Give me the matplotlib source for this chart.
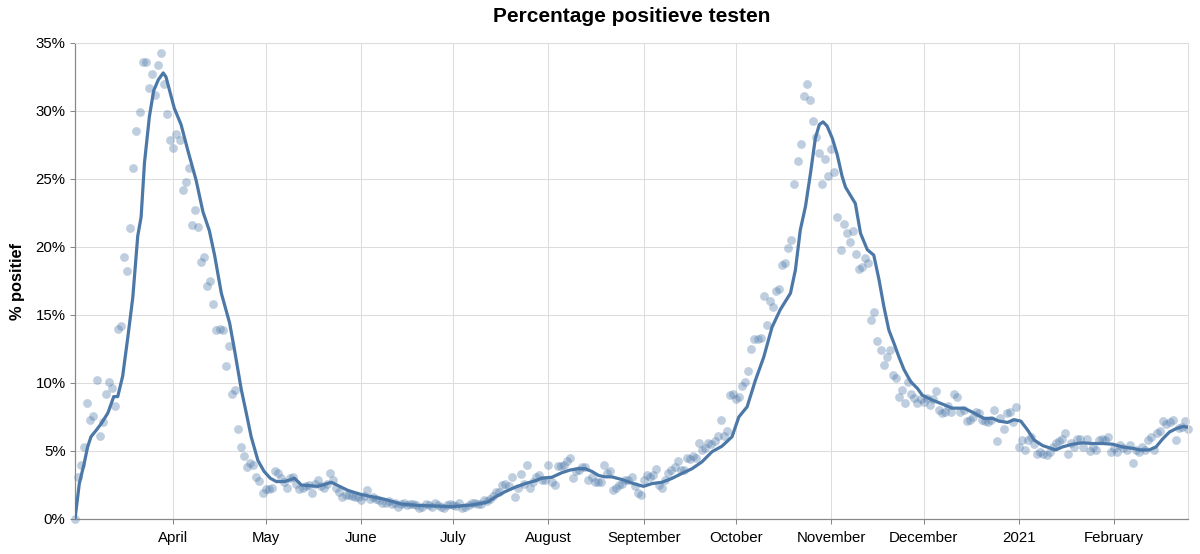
import numpy as np
import pandas as pd
import matplotlib
matplotlib.use("Agg")
import matplotlib.pyplot as plt

plt.rcParams['font.family'] = ['Liberation Sans', 'DejaVu Sans']

start_date = "2020-02-29"

# daily percentage positive (dots)
pos_mar_apr = [0.0, 3.1, 4.0, 5.3, 8.5, 7.3, 7.6, 10.2, 6.1, 7.1, 9.2, 10.1, 9.6, 8.3, 14.0,
               14.2, 19.3, 18.2, 21.4, 25.8, 28.5, 29.9, 33.6, 33.6, 31.7, 32.7, 31.2, 33.4, 34.3,
               32.0, 29.8, 27.9, 27.3, 28.3, 27.9, 24.2, 24.8, 25.8, 21.6, 22.7, 21.5, 18.9, 19.3,
               17.1, 17.5, 15.8, 13.9, 14.0, 13.9, 11.25, 12.7, 9.2, 9.5, 6.6, 5.3, 4.6, 3.85, 4.1,
               4.0, 3.1, 2.8, 1.9, 2.2]
pos_may_jun = [2.2, 2.3, 3.5, 3.4, 3.0, 2.7, 2.3, 3.0, 3.1, 2.6, 2.2, 2.3, 2.4, 2.5, 1.9,
               2.6, 2.9, 2.4, 2.3, 2.6, 3.4, 2.9, 2.3, 2.0, 1.6, 1.8, 1.8, 1.7, 1.6, 1.6,
               1.4, 1.7, 2.1, 1.5, 1.6, 1.5, 1.4, 1.2, 1.2, 1.3, 1.1, 1.2, 0.9, 1.1, 1.2,
               1.0, 1.1, 1.1, 1.0, 0.8, 0.9, 1.1, 1.0, 0.9, 1.2, 1.0, 0.9, 0.8, 1.0, 1.1]
pos_jul_sep = [1.03, 0.96, 1.15, 0.8, 0.86, 1.0, 1.15, 1.2, 1.1, 1.1, 1.4, 1.3, 1.5, 1.7, 2.0,
               2.0, 2.5, 2.6, 2.4, 3.1, 1.6, 2.3, 3.3, 2.6, 4.0, 2.3, 2.7, 3.1, 3.2, 2.9, 2.9,
               4.0, 2.7, 2.5, 3.9, 3.9, 4.0, 4.3, 4.5, 3.0, 3.5, 3.6, 3.8, 3.8, 2.9, 3.1,
               2.7, 2.7, 2.7, 4.0, 3.4, 3.5, 2.1, 2.3, 2.5, 2.6, 2.9, 2.9, 3.1, 2.4, 1.9, 1.8,
               2.9, 3.2, 3.1, 3.2, 3.7, 2.5, 2.3, 2.9, 3.4, 3.6, 3.85, 4.3, 3.6, 3.6, 4.5,
               4.4, 4.6, 4.5, 5.6, 5.1, 5.2, 5.6, 5.5, 5.7, 6.1, 7.3, 6.1, 6.5, 9.1, 9.2, 8.8]
pos_oct_nov = [9.0, 9.8, 10.1, 10.9, 12.5, 13.2, 13.2, 13.3, 16.4, 14.3, 16.0, 15.6, 16.8, 16.9,
               18.7, 18.8, 19.95, 20.5, 24.6, 26.3, 27.55, 31.1, 32.0, 30.8, 29.3, 28.1, 26.9,
               24.6, 26.5, 25.2, 27.2, 25.5, 22.2, 19.8, 21.7, 21.0, 20.4, 21.2, 19.5, 18.4,
               18.5, 19.2, 18.8, 14.6, 15.2, 13.1, 12.4, 11.3, 11.9, 12.4, 10.6, 10.35, 9.0,
               9.5, 8.5, 10.1, 9.2, 8.9, 8.5, 8.8]
pos_dec_feb = [8.6, 8.9, 8.4, 8.8, 9.4, 8.0, 7.8, 7.9, 8.3, 7.9, 9.2, 9.0, 7.9, 8.0, 7.2,
               7.3, 7.5, 7.9, 7.8, 7.3, 7.2, 7.15, 7.3, 8.0, 5.7, 7.4, 6.6, 7.8, 7.9, 7.1,
               8.2, 5.3, 5.8, 5.1, 5.8, 6.0, 5.5, 4.8, 4.9, 4.8, 4.7, 4.95, 5.3, 5.6, 5.7,
               5.9, 6.35, 4.8, 5.6, 5.3, 5.9, 5.9, 5.3, 5.9, 5.0, 5.3, 5.1, 5.8, 5.9, 5.8,
               6.0, 4.9, 5.2, 4.9, 5.45, 5.2, 5.1, 5.45, 4.1, 5.1, 4.95, 5.3, 5.1, 5.8, 6.0,
               5.1, 6.35, 6.5, 7.2, 6.95, 7.1, 7.3, 5.8, 6.7, 6.8, 7.2, 6.6]

# smoothed line (days since start date, value)
line_days_1 = [0, 1.4, 3.0, 4.1, 5.2, 6.8, 8.5, 10.7, 12.6, 13.9, 15.5, 17.2, 18.8, 20.4, 21.5,
               22.6, 24.2, 25.6, 27.1, 28.7, 29.6, 31.0, 32.3, 34.5, 36.7, 39.4, 41.6, 43.7,
               45.4, 47.6, 50.3, 51.9, 54.1, 55.7, 57.3, 59.5, 61.5]
line_vals_1 = [0.0, 2.6, 4.1, 5.3, 6.05, 6.5, 7.0, 7.8, 9.0, 9.0, 10.5, 13.4, 16.3, 20.8, 22.2,
               26.2, 29.6, 31.5, 32.3, 32.8, 32.5, 31.3, 30.2, 29.0, 27.1, 24.9, 22.6, 21.2,
               19.4, 16.6, 14.4, 12.4, 9.5, 7.8, 6.05, 4.3, 3.5]
line_days_2 = [63.5, 65.5, 68.2, 71.4, 73.6, 79.0, 83.4, 85.6, 88.8, 93.1, 100.7, 106.2, 111.6,
               118.0, 122.5]
line_vals_2 = [3.0, 2.75, 2.75, 3.0, 2.5, 2.4, 2.7, 2.45, 2.1, 1.8, 1.45, 1.1, 1.0, 0.95, 0.9]
line_days_3 = [125.7, 129.0, 132.2, 134.4, 136.6, 139.8, 143.1, 146.4, 149.6, 151.8, 155.1,
               158.3, 161.0, 163.7, 165.9, 168.1, 170.3, 172.4, 174.6, 177.9, 181.7, 184.9,
               187.6, 190.9, 194.1, 197.4, 200.7, 203.9, 207.2, 210.4, 213.7]
line_vals_3 = [0.97, 1.03, 1.15, 1.27, 1.6, 2.0, 2.33, 2.6, 2.8, 3.0, 3.07, 3.4, 3.6, 3.7, 3.7,
               3.5, 3.2, 3.1, 3.1, 2.9, 2.6, 2.4, 2.6, 2.7, 2.98, 3.35, 3.7, 4.2, 4.95, 5.35, 6.05]
line_days_4 = [215.9, 218.6, 221.3, 224.0, 226.7, 229.4, 232.7, 234.3, 235.9, 237.6, 239.2,
               240.8, 242.1, 243.3, 244.6, 246.3, 247.9, 249.5, 250.6, 252.2, 253.8, 255.5,
               257.7, 259.8, 261.5, 263.1, 264.7, 266.4, 268.0, 269.6, 271.8, 274.0, 275.6]
line_vals_4 = [7.5, 8.25, 10.2, 11.9, 14.1, 15.4, 16.6, 18.3, 21.25, 23.0, 25.4, 28.0, 29.0,
               29.2, 28.9, 28.0, 26.8, 25.2, 24.4, 23.8, 23.2, 21.0, 19.8, 19.4, 17.6, 15.6,
               13.9, 12.9, 11.9, 11.0, 10.1, 9.6, 9.1]
line_days_5 = [278.8, 282.1, 285.3, 289.1, 292.4, 295.6, 298.4, 300.5, 303.3, 305.4, 307.6,
               309.8, 312.0, 314.7, 317.4, 319.0, 321.2, 324.4, 327.7, 331.0, 334.2, 337.5,
               340.7, 344.0, 346.2, 349.4, 351.6, 353.8, 356.0, 358.2, 360.3, 362.0]
line_vals_5 = [8.75, 8.45, 8.15, 8.15, 7.8, 7.4, 7.4, 7.2, 7.1, 7.3, 7.2, 6.55, 5.8, 5.4, 5.2,
               5.08, 5.3, 5.5, 5.6, 5.55, 5.55, 5.5, 5.3, 5.2, 5.08, 5.08, 5.3, 5.9, 6.4, 6.65,
               6.8, 6.75]

month_ticks = pd.date_range("2020-04-01", "2021-02-01", freq="MS")
month_labels = ["April", "May", "June", "July", "August", "September", "October",
                "November", "December", "2021", "February"]
y_ticks = [0, 5, 10, 15, 20, 25, 30, 35]

title = "Percentage positieve testen"
y_title = "% positief"

# ---------------------------------------------------------------
values = np.concatenate([pos_mar_apr, pos_may_jun, pos_jul_sep, pos_oct_nov, pos_dec_feb])
start = pd.Timestamp(start_date)
dates = pd.date_range(start, periods=len(values), freq="D")
line_days = np.concatenate([line_days_1, line_days_2, line_days_3, line_days_4, line_days_5])
line_vals = np.concatenate([line_vals_1, line_vals_2, line_vals_3, line_vals_4, line_vals_5])
line_dates = start + pd.to_timedelta(line_days, unit="D")

W, H = 1200, 554
fig = plt.figure(figsize=(W / 100, H / 100), dpi=100)
L, R, T, B = 75, 1188, 43, 519
ax = fig.add_axes([L / W, 1 - B / H, (R - L) / W, (B - T) / H])

color = "#4c78a8"
ax.scatter(dates, values, s=40, color=color, alpha=0.36, linewidths=0, zorder=2, clip_on=False)
ax.plot(line_dates, line_vals, color=color, lw=2.3, zorder=3, solid_joinstyle="round",
        solid_capstyle="round")

ax.set_xlim(dates[0], dates[-1])
ax.set_ylim(0, 35)
ax.set_xticks(month_ticks)
ax.set_xticklabels(month_labels)
ax.set_yticks(y_ticks)
ax.set_yticklabels([f"{v}%" for v in y_ticks])

ax.grid(True, color="#dddddd", lw=0.75)
ax.set_axisbelow(True)
for s in ["top", "right"]:
    ax.spines[s].set_color("#dddddd")
    ax.spines[s].set_linewidth(0.75)
for s in ["left", "bottom"]:
    ax.spines[s].set_color("#888888")
    ax.spines[s].set_linewidth(0.9)
ax.tick_params(axis="both", length=3.8, width=0.75, color="#888888", labelsize=10.8,
               labelcolor="#000000")
ax.tick_params(axis="x", pad=5)
ax.tick_params(axis="y", pad=3)

fig.text((L + R) / 2 / W, 1 - 17 / H, title, ha="center", va="center",
         fontsize=15, fontweight="bold")
fig.text(18 / W, 1 - ((T + B) / 2) / H, y_title, ha="center", va="center", rotation=90,
         fontsize=11.8, fontweight="bold")

fig.savefig("out.png", dpi=100)
